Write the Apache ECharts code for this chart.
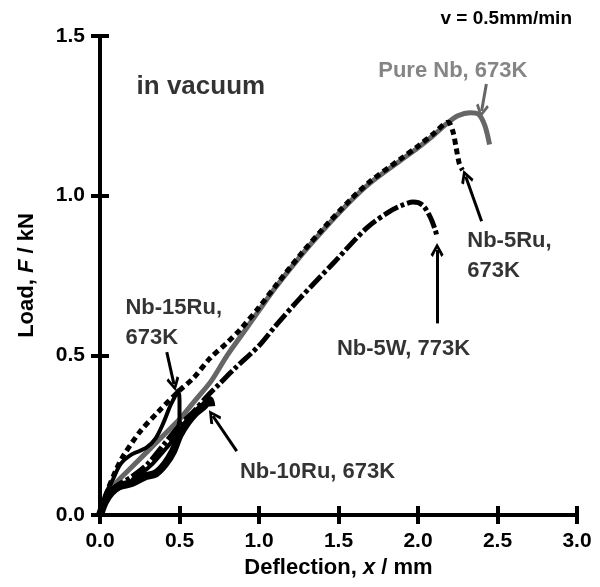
<!DOCTYPE html>
<html><head><meta charset="utf-8">
<script src="https://cdn.jsdelivr.net/npm/echarts@6/dist/echarts.min.js"></script>
<style>html,body{margin:0;padding:0;background:#fff}#c{width:600px;height:587px}</style>
</head><body><div id="c"></div>
<script>
// ---- data ----
const xTicks = [0, 0.5, 1.0, 1.5, 2.0, 2.5, 3.0];
const yTicks = [0, 0.5, 1.0, 1.5];
const pureNb = [[0,0],[0.05,0.06],[0.1,0.1],[0.2,0.15],[0.3,0.2],[0.4,0.25],[0.5,0.3],[0.6,0.36],[0.7,0.42],[0.8,0.5],[0.9,0.57],[1.0,0.64],[1.1,0.71],[1.26,0.81],[1.4,0.89],[1.57,0.98],[1.7,1.04],[1.89,1.11],[2.0,1.15],[2.1,1.19],[2.18,1.225],[2.25,1.25],[2.33,1.26],[2.38,1.255],[2.42,1.22],[2.45,1.16]];
const nb5Ru = [[0,0],[0.05,0.08],[0.1,0.14],[0.14,0.18],[0.25,0.26],[0.36,0.32],[0.5,0.39],[0.59,0.43],[0.69,0.49],[0.8,0.54],[0.88,0.58],[1.0,0.65],[1.1,0.715],[1.26,0.815],[1.4,0.895],[1.57,0.985],[1.7,1.045],[1.89,1.115],[2.0,1.155],[2.1,1.195],[2.19,1.23],[2.22,1.2],[2.24,1.15],[2.26,1.1],[2.28,1.08]];
const nb5W = [[0,0],[0.05,0.06],[0.1,0.09],[0.2,0.12],[0.3,0.16],[0.4,0.22],[0.5,0.28],[0.6,0.33],[0.67,0.37],[0.75,0.41],[0.85,0.46],[1.0,0.53],[1.1,0.59],[1.26,0.68],[1.47,0.79],[1.68,0.9],[1.82,0.95],[1.9,0.97],[1.97,0.98],[2.03,0.97],[2.08,0.93],[2.11,0.89],[2.12,0.87]];
const nb15Ru = [[0,0],[0.03,0.06],[0.08,0.11],[0.13,0.16],[0.2,0.19],[0.29,0.21],[0.35,0.24],[0.4,0.29],[0.44,0.34],[0.47,0.37],[0.49,0.39],[0.5,0.36],[0.5,0.3],[0.48,0.26],[0.45,0.23],[0.4,0.2],[0.33,0.16],[0.26,0.13],[0.2,0.11]];
const nb10Ru = [[0,0],[0.03,0.04],[0.07,0.07],[0.12,0.09],[0.2,0.1],[0.28,0.12],[0.35,0.13],[0.41,0.16],[0.46,0.2],[0.5,0.25],[0.55,0.29],[0.6,0.32],[0.65,0.34],[0.69,0.36],[0.7,0.34]];
const annoTexts = ['Pure Nb, 673K','in vacuum','Nb-5Ru,\n673K','Nb-5W, 773K','Nb-15Ru,\n673K','Nb-10Ru, 673K'];
const annoPos = [[1.75,1.39],[0.23,1.34],[2.31,0.81],[1.49,0.52],[0.16,0.6],[0.88,0.135]];
const annoColors = ['#666666','#000000','#000000','#000000','#000000','#000000'];
const arrowFrom = [[2.43,1.35],[2.40,0.92],[2.12,0.60],[0.42,0.51],[0.86,0.20]];
const arrowTo = [[2.40,1.265],[2.30,1.06],[2.12,0.83],[0.465,0.41],[0.71,0.31]];
const arrowColors = ['#666666','#000000','#000000','#000000','#000000'];
const speedNote = 'v = 0.5mm/min';

// ---- chart ----
const FONT = '"Liberation Sans", Arial, sans-serif';
const chart = echarts.init(document.getElementById('c'), null, {renderer:'canvas'});
const axisLine = {show:true, lineStyle:{color:'#000', width:4}};
const axisTick = {show:true, inside:true, length:9, lineStyle:{color:'#000', width:4}};
const lblStyle = {fontSize:21, fontWeight:'bold', color:'#000', fontFamily:FONT};
const chev = 'path://M5,0 L10,8.5 L8.3,10 L5,4 L1.7,10 L0,8.5 Z';
function xAx(pos, show){
  return {type:'value', position:pos, min:xTicks[0], max:xTicks[xTicks.length-1], interval:xTicks[1]-xTicks[0],
    axisLine, axisTick, splitLine:{show:false},
    axisLabel: show ? Object.assign({margin:16, formatter:v=>v.toFixed(1)}, lblStyle) : {show:false},
    name: show ? '{n|Deflection, }{i|x}{n| / mm}' : '', nameLocation:'middle', nameGap:40,
    nameTextStyle:{rich:{n:{fontSize:22,fontWeight:'bold',fontFamily:FONT,color:'#000'},i:{fontSize:22,fontWeight:'bold',fontStyle:'italic',fontFamily:FONT,color:'#000'}}}};
}
function yAx(pos, show){
  return {type:'value', position:pos, min:yTicks[0], max:yTicks[yTicks.length-1], interval:yTicks[1]-yTicks[0],
    axisLine, axisTick, splitLine:{show:false},
    axisLabel: show ? Object.assign({margin:15, formatter:v=>v.toFixed(1)}, lblStyle) : {show:false},
    name: show ? '{n|Load, }{i|F}{n| / kN}' : '', nameLocation:'middle', nameGap:62,
    nameTextStyle:{rich:{n:{fontSize:22,fontWeight:'bold',fontFamily:FONT,color:'#000'},i:{fontSize:22,fontWeight:'bold',fontStyle:'italic',fontFamily:FONT,color:'#000'}}}};
}
function lineSeries(name, data, color, width, type, z){
  return {name, type:'line', data, showSymbol:false, symbol:'none', smooth:0.3, z,
    lineStyle:{color, width, type, cap:'butt', join:'round'}, silent:true, animation:false};
}
const series = [
  lineSeries('Pure Nb', pureNb, '#666666', 5, 'solid', 2),
  lineSeries('Nb-5Ru', nb5Ru, '#000', 5, [6,4], 3),
  lineSeries('Nb-5W', nb5W, '#000', 5, [16,3,4,3], 3),
  lineSeries('Nb-15Ru', nb15Ru, '#000', 4, 'solid', 3),
  lineSeries('Nb-10Ru', nb10Ru, '#000', 8, 'solid', 3),
  {type:'scatter', symbolSize:0, silent:true, animation:false, z:5,
    data: annoTexts.map((t,i)=>({value:annoPos[i], name:t,
      label:{show:true, position:'right', distance:0, formatter:'{b}', fontSize:(i===1?26:22), lineHeight:30,
        fontWeight:'bold', fontFamily:FONT, color:annoColors[i], align:'left'}}))},
  {type:'line', data:[], silent:true, animation:false,
    markLine:{silent:true, animation:false, symbol:['none', chev], symbolSize:[13,14], label:{show:false},
      data: arrowFrom.map((f,i)=>[{coord:f, lineStyle:{color:arrowColors[i], width:3, type:'solid'}, symbol:'none'},{coord:arrowTo[i], symbol:chev}])}}
];
chart.setOption({
  animation:false,
  title:{text:speedNote, right:23, top:4, textStyle:{fontSize:19, fontWeight:'bold', color:'#000', fontFamily:FONT}},
  grid:{left:100, right:23, top:36, bottom:72, containLabel:false},
  xAxis:[xAx('bottom', true), xAx('top', false)],
  yAxis:[yAx('left', true), yAx('right', false)],
  series
});
</script></body></html>
